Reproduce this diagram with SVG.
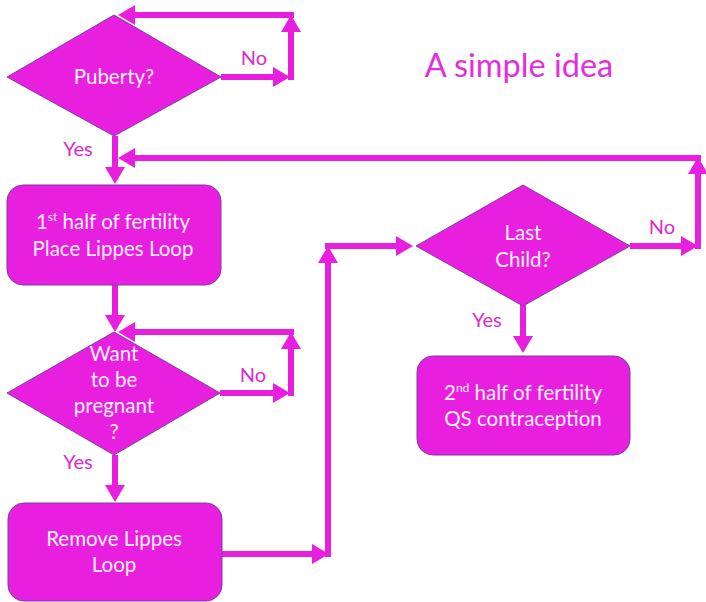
<svg xmlns="http://www.w3.org/2000/svg" width="706" height="602" viewBox="0 0 706 602">
<style>
.shape{fill:#E91FE0;stroke:#7A3FA8;stroke-width:1}
.t{font-family:Lato,"Open Sans","Liberation Sans",sans-serif;font-size:20.5px;fill:#FFF0FF;text-anchor:middle}
.lbl{font-family:Lato,"Open Sans","Liberation Sans",sans-serif;font-size:20px;fill:#D92BD0;text-anchor:middle}
.title{font-family:Lato,"Open Sans","Liberation Sans",sans-serif;font-size:32.5px;fill:#E22EDB;text-anchor:middle}
.c{fill:none;stroke:#E91FE0;stroke-width:6;marker-end:url(#ah)}
</style>
<defs>
<marker id="ah" viewBox="0 0 17 20" refX="7" refY="10" markerWidth="17" markerHeight="20" markerUnits="userSpaceOnUse" orient="auto">
<path d="M0,0 L17,10 L0,20 Z" fill="#E91FE0"/>
</marker>
</defs>
<g id="connectors">
<path class="c" d="M221,77 L280,77"/>
<path class="c" d="M291,80 L291,25"/>
<path class="c" d="M294,15 L128,15"/>
<path class="c" d="M115,136 L115,174"/>
<path class="c" d="M115,285 L115,322"/>
<path class="c" d="M220,393 L280,393"/>
<path class="c" d="M291,396 L291,342"/>
<path class="c" d="M294,332 L128,332"/>
<path class="c" d="M115,455 L115,492"/>
<path class="c" d="M222,554 L319,554"/>
<path class="c" d="M328,557 L328,256"/>
<path class="c" d="M325,246 L403,246"/>
<path class="c" d="M630,246 L688,246"/>
<path class="c" d="M698,249 L698,167"/>
<path class="c" d="M701,158 L128,158"/>
<path class="c" d="M523,305 L523,343"/>
</g>
<g id="labels">
<text class="lbl" x="254" y="65">No</text>
<text class="lbl" x="78" y="156">Yes</text>
<text class="lbl" x="253" y="382">No</text>
<text class="lbl" x="78" y="469">Yes</text>
<text class="lbl" x="662" y="234">No</text>
<text class="lbl" x="487" y="327">Yes</text>
</g>
<text class="title" x="519" y="77">A simple idea</text>
<g id="puberty">
<polygon class="shape" points="114,15 221,77 114,136 7,77"/>
<text class="t" x="114" y="84">Puberty?</text>
</g>
<g id="first-half">
<rect class="shape" x="7" y="185" width="214" height="100" rx="16"/>
<text class="t" x="113" y="229">1<tspan font-size="12" dy="-8">st</tspan><tspan dy="8"> half of fertility</tspan></text>
<text class="t" x="113" y="256">Place Lippes Loop</text>
</g>
<g id="want-pregnant">
<polygon class="shape" points="114,332 220,393 114,455 7,393"/>
<text class="t" x="114" y="361">Want</text>
<text class="t" x="114" y="387">to be</text>
<text class="t" x="114" y="413">pregnant</text>
<text class="t" x="114" y="439">?</text>
</g>
<g id="remove-loop">
<rect class="shape" x="8" y="503" width="214" height="98" rx="16"/>
<text class="t" x="114" y="546">Remove Lippes</text>
<text class="t" x="114" y="572">Loop</text>
</g>
<g id="last-child">
<polygon class="shape" points="523,185 630,246 523,306 416,246"/>
<text class="t" x="523" y="240">Last</text>
<text class="t" x="523" y="267">Child?</text>
</g>
<g id="second-half">
<rect class="shape" x="417" y="356" width="213" height="99" rx="16"/>
<text class="t" x="523" y="400">2<tspan font-size="12" dy="-8">nd</tspan><tspan dy="8"> half of fertility</tspan></text>
<text class="t" x="523" y="426">QS contraception</text>
</g>
</svg>
